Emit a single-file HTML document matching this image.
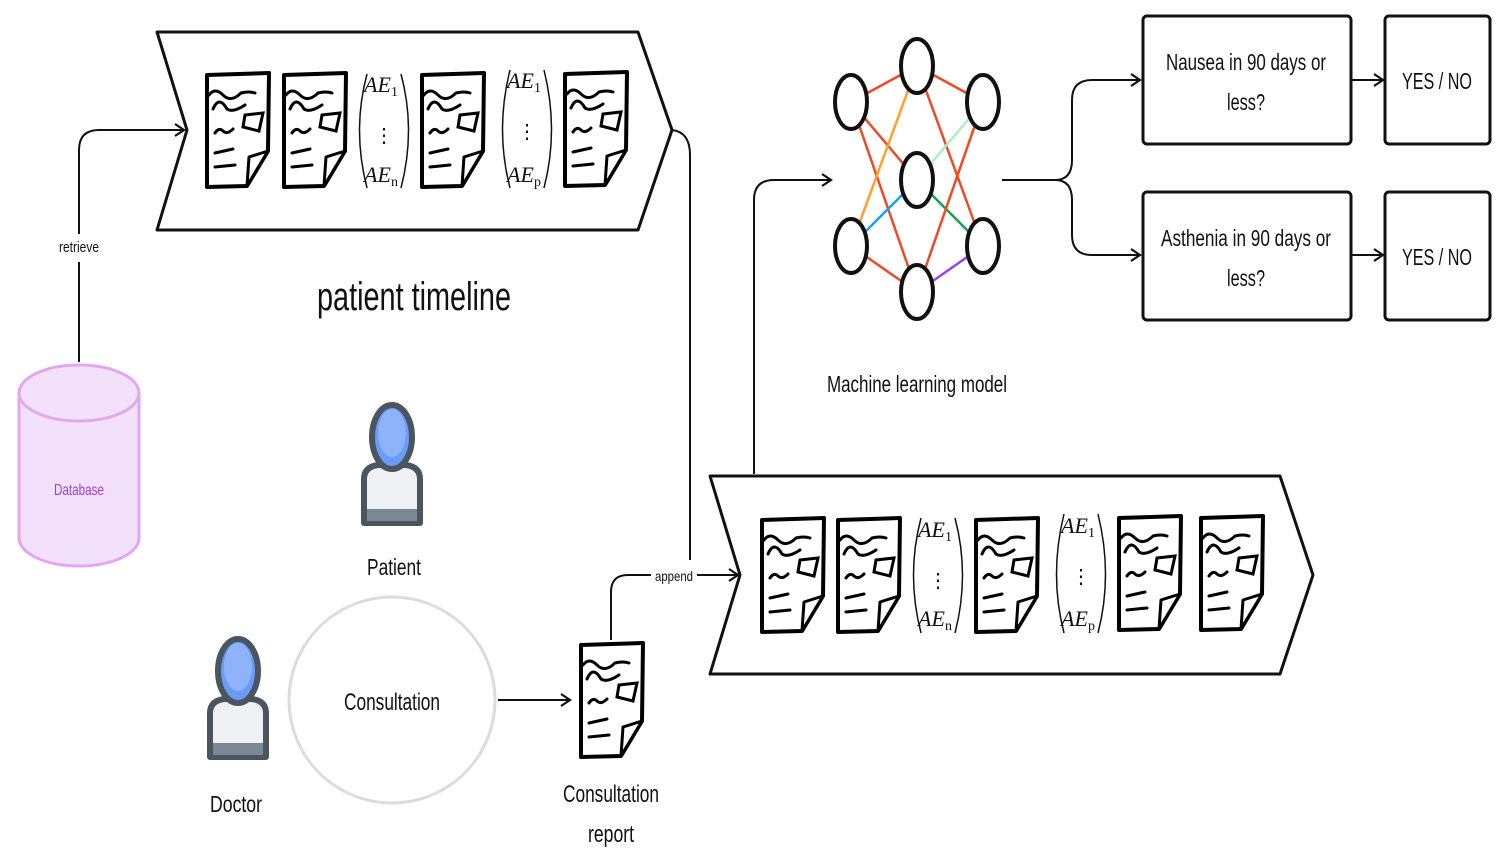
<!DOCTYPE html>
<html><head><meta charset="utf-8"><style>
html,body{margin:0;padding:0;background:#fff;width:1499px;height:852px;overflow:hidden}
text{font-family:"Liberation Sans Narrow","Liberation Sans",sans-serif;fill:#111}
.ae{font-family:"Liberation Serif",serif;font-style:italic}
.sub{font-style:normal}
</style></head><body>
<svg width="1499" height="852" viewBox="0 0 1499 852" xmlns="http://www.w3.org/2000/svg">
<defs>
<marker id="ah" markerWidth="12" markerHeight="14" refX="10" refY="7" orient="auto" markerUnits="userSpaceOnUse">
<path d="M1,1 L10,7 L1,13" fill="none" stroke="#111" stroke-width="2.2"/>
</marker>
<g id="doc">
<path d="M2,2 L64,0 L63,78 L42,113 L2,114 Z" fill="#fff" stroke="#000" stroke-width="4" stroke-linejoin="round"/>
<path d="M44,84 L63,78 L42,113 Z" fill="#fff" stroke="#000" stroke-width="3" stroke-linejoin="round"/>
<g fill="none" stroke="#000" stroke-width="3" stroke-linecap="round">
<path d="M4,22 Q10,14 18,22 T36,20 Q44,18 50,20"/>
<path d="M8,36 Q14,22 22,36 Q28,40 40,32"/>
<path d="M38,54 L40,42 L58,40 L54,58 Z"/>
<path d="M10,60 Q14,54 18,58 Q22,62 28,56"/>
<path d="M10,80 L28,76"/>
<path d="M10,94 L30,92"/>
</g>
</g>
<g id="person">
<path d="M-28,86 L-28,42 Q-28,30 -14,28 L14,28 Q28,30 28,42 L28,86 Z" fill="#eef0f3" stroke="#4a5560" stroke-width="6" stroke-linejoin="round"/>
<rect x="-25" y="72" width="50" height="12" fill="#7a8794"/>
<ellipse cx="0" cy="0" rx="20" ry="32" fill="#6a9cf7" stroke="#4a5560" stroke-width="6"/>
<ellipse cx="0" cy="-4" rx="14" ry="24" fill="#8fb3fa"/>
</g>
</defs>

<!-- top chevron -->
<path d="M157,32 L638,32 L672,130 L638,230 L157,230 L187,130 Z" fill="#fff" stroke="#111" stroke-width="3" stroke-linejoin="round"/>
<use href="#doc" x="205" y="73"/>
<use href="#doc" x="282" y="73"/>
<use href="#doc" x="420" y="73"/>
<use href="#doc" x="563" y="72"/>
<g>
<text x="381" y="92" font-size="22" text-anchor="middle" class="ae">AE<tspan class="sub" font-size="14" dy="4">1</tspan></text>
<text x="384" y="142" font-size="20" text-anchor="middle">⋮</text>
<text x="381" y="182" font-size="22" text-anchor="middle" class="ae">AE<tspan class="sub" font-size="14" dy="4">n</tspan></text>
<text x="524" y="88" font-size="22" text-anchor="middle" class="ae">AE<tspan class="sub" font-size="14" dy="4">1</tspan></text>
<text x="527" y="138" font-size="20" text-anchor="middle">⋮</text>
<text x="524" y="182" font-size="22" text-anchor="middle" class="ae">AE<tspan class="sub" font-size="14" dy="4">p</tspan></text>
</g>
<g fill="none" stroke="#111" stroke-width="1.5">
<path d="M367,74 Q352,130 367,188"/><path d="M401,74 Q416,130 401,188"/>
<path d="M510,70 Q495,130 510,188"/><path d="M544,70 Q559,130 544,188"/>
</g>

<!-- retrieve connector -->
<path d="M79,362 L79,150 Q79,130 99,130 L184,130" fill="none" stroke="#111" stroke-width="2" marker-end="url(#ah)"/>
<rect x="55" y="234" width="48" height="28" fill="#fff"/>
<text x="79" y="252" font-size="15" text-anchor="middle" textLength="40" lengthAdjust="spacingAndGlyphs">retrieve</text>

<!-- database -->
<path d="M19,393 L19,538 A60,28 0 0 0 139,538 L139,393" fill="#f3e1fb" stroke="#e3a6f3" stroke-width="3"/>
<ellipse cx="79" cy="393" rx="60" ry="28" fill="#f3e1fb" stroke="#e3a6f3" stroke-width="3"/>
<text x="79" y="495" font-size="16" text-anchor="middle" style="fill:#9b3fd6" textLength="50" lengthAdjust="spacingAndGlyphs">Database</text>

<text x="414" y="310" font-size="40" text-anchor="middle" textLength="194" lengthAdjust="spacingAndGlyphs">patient timeline</text>

<!-- timeline to append -->
<path d="M672,130 Q690,132 690,155 L690,560" fill="none" stroke="#111" stroke-width="2"/>
<path d="M611,640 L611,592 Q611,575 628,575 L738,575" fill="none" stroke="#111" stroke-width="2" marker-end="url(#ah)"/>
<rect x="651" y="566" width="46" height="20" fill="#fff"/>
<text x="674" y="581" font-size="14" text-anchor="middle" textLength="38" lengthAdjust="spacingAndGlyphs">append</text>

<!-- persons -->
<use href="#person" x="392" y="437"/>
<text x="394" y="575" font-size="23" text-anchor="middle" textLength="54" lengthAdjust="spacingAndGlyphs">Patient</text>
<use href="#person" x="238" y="671"/>
<text x="236" y="812" font-size="23" text-anchor="middle" textLength="52" lengthAdjust="spacingAndGlyphs">Doctor</text>

<circle cx="392" cy="700" r="103" fill="#fff" stroke="#dcdcdc" stroke-width="3"/>
<text x="392" y="710" font-size="24" text-anchor="middle" textLength="96" lengthAdjust="spacingAndGlyphs">Consultation</text>
<path d="M498,700 L570,700" fill="none" stroke="#111" stroke-width="2" marker-end="url(#ah)"/>
<use href="#doc" x="579" y="643"/>
<text x="611" y="802" font-size="24" text-anchor="middle" textLength="96" lengthAdjust="spacingAndGlyphs">Consultation</text>
<text x="611" y="842" font-size="24" text-anchor="middle" textLength="46" lengthAdjust="spacingAndGlyphs">report</text>

<!-- bottom chevron -->
<path d="M710,476 L1280,476 L1313,575 L1280,674 L710,674 L740,575 Z" fill="#fff" stroke="#111" stroke-width="3" stroke-linejoin="round"/>
<use href="#doc" x="760" y="518"/>
<use href="#doc" x="836" y="518"/>
<use href="#doc" x="974" y="518"/>
<use href="#doc" x="1117" y="516"/>
<use href="#doc" x="1199" y="516"/>
<g>
<text x="935" y="537" font-size="22" text-anchor="middle" class="ae">AE<tspan class="sub" font-size="14" dy="4">1</tspan></text>
<text x="938" y="587" font-size="20" text-anchor="middle">⋮</text>
<text x="935" y="626" font-size="22" text-anchor="middle" class="ae">AE<tspan class="sub" font-size="14" dy="4">n</tspan></text>
<text x="1078" y="533" font-size="22" text-anchor="middle" class="ae">AE<tspan class="sub" font-size="14" dy="4">1</tspan></text>
<text x="1081" y="583" font-size="20" text-anchor="middle">⋮</text>
<text x="1078" y="626" font-size="22" text-anchor="middle" class="ae">AE<tspan class="sub" font-size="14" dy="4">p</tspan></text>
</g>
<g fill="none" stroke="#111" stroke-width="1.5">
<path d="M921,518 Q906,575 921,633"/><path d="M955,518 Q970,575 955,633"/>
<path d="M1064,514 Q1049,575 1064,633"/><path d="M1098,514 Q1113,575 1098,633"/>
</g>

<!-- to model -->
<path d="M754,474 L754,200 Q754,180 774,180 L831,180" fill="none" stroke="#111" stroke-width="2" marker-end="url(#ah)"/>

<!-- network -->
<g stroke-width="2.5" fill="none">
<line x1="851" y1="102" x2="917" y2="66" stroke="#f04a24"/>
<line x1="851" y1="102" x2="917" y2="180" stroke="#f04a24"/>
<line x1="851" y1="102" x2="917" y2="292" stroke="#f04a24"/>
<line x1="851" y1="246" x2="917" y2="66" stroke="#ffa02a"/>
<line x1="851" y1="246" x2="917" y2="180" stroke="#1aa0f5"/>
<line x1="851" y1="246" x2="917" y2="292" stroke="#f04a24"/>
<line x1="917" y1="66" x2="983" y2="102" stroke="#f04a24"/>
<line x1="917" y1="66" x2="983" y2="246" stroke="#f04a24"/>
<line x1="917" y1="180" x2="983" y2="102" stroke="#aeeec0"/>
<line x1="917" y1="180" x2="983" y2="246" stroke="#16a050"/>
<line x1="917" y1="292" x2="983" y2="102" stroke="#f04a24"/>
<line x1="917" y1="292" x2="983" y2="246" stroke="#9a40f5"/>
</g>
<g fill="#fff" stroke="#111" stroke-width="4">
<ellipse cx="851" cy="102" rx="16" ry="27"/>
<ellipse cx="851" cy="246" rx="16" ry="27"/>
<ellipse cx="917" cy="66" rx="16" ry="27"/>
<ellipse cx="917" cy="180" rx="16" ry="27"/>
<ellipse cx="917" cy="292" rx="16" ry="27"/>
<ellipse cx="983" cy="102" rx="16" ry="27"/>
<ellipse cx="983" cy="246" rx="16" ry="27"/>
</g>
<text x="917" y="392" font-size="23" text-anchor="middle" textLength="180" lengthAdjust="spacingAndGlyphs">Machine learning model</text>

<!-- outputs -->
<path d="M1002,180 L1055,180" fill="none" stroke="#111" stroke-width="2"/>
<path d="M1055,180 Q1072,180 1072,160 L1072,100 Q1072,80 1092,80 L1140,80" fill="none" stroke="#111" stroke-width="2" marker-end="url(#ah)"/>
<path d="M1055,180 Q1072,180 1072,200 L1072,235 Q1072,255 1092,255 L1140,255" fill="none" stroke="#111" stroke-width="2" marker-end="url(#ah)"/>
<g fill="#fff" stroke="#111" stroke-width="3">
<rect x="1143" y="16" width="208" height="128" rx="4"/>
<rect x="1143" y="192" width="208" height="128" rx="4"/>
<rect x="1385" y="16" width="105" height="128" rx="4"/>
<rect x="1385" y="192" width="105" height="128" rx="4"/>
</g>
<path d="M1351,80 L1383,80" fill="none" stroke="#111" stroke-width="2" marker-end="url(#ah)"/>
<path d="M1351,255 L1383,255" fill="none" stroke="#111" stroke-width="2" marker-end="url(#ah)"/>
<g font-size="23" text-anchor="middle">
<text x="1246" y="70" textLength="160" lengthAdjust="spacingAndGlyphs">Nausea in 90 days or</text>
<text x="1246" y="110" textLength="38" lengthAdjust="spacingAndGlyphs">less?</text>
<text x="1246" y="246" textLength="170" lengthAdjust="spacingAndGlyphs">Asthenia in 90 days or</text>
<text x="1246" y="286" textLength="38" lengthAdjust="spacingAndGlyphs">less?</text>
<text x="1437" y="89" textLength="70" lengthAdjust="spacingAndGlyphs">YES / NO</text>
<text x="1437" y="265" textLength="70" lengthAdjust="spacingAndGlyphs">YES / NO</text>
</g>
</svg>
</body></html>
